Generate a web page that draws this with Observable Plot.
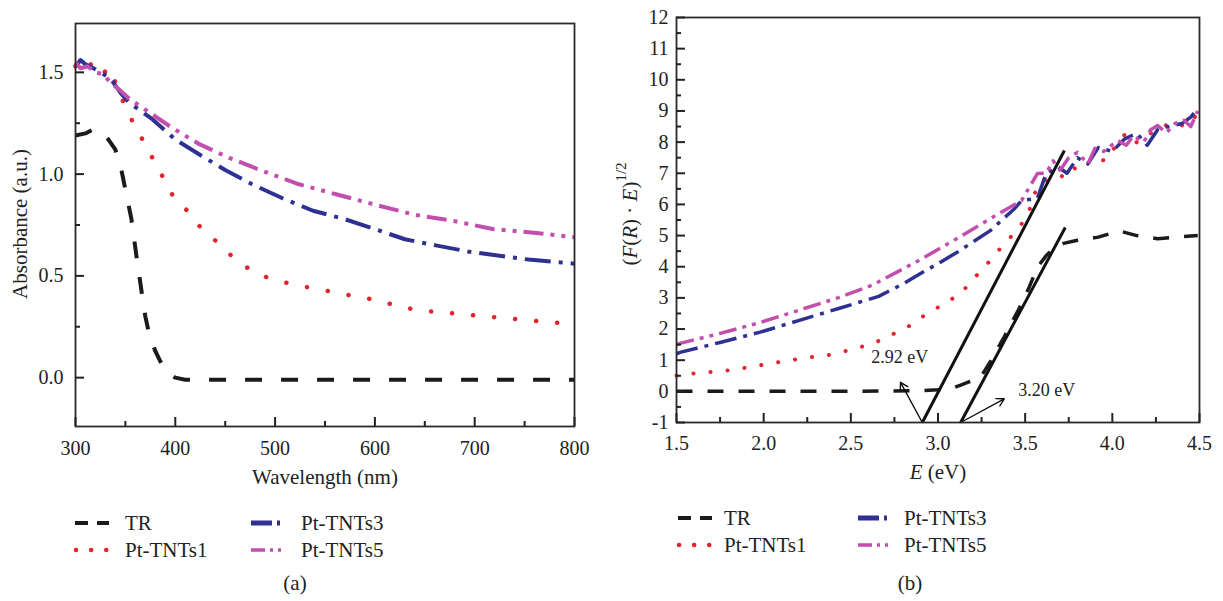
<!DOCTYPE html>
<html><head><meta charset="utf-8">
<script src="https://cdn.jsdelivr.net/npm/d3@7"></script>
<script src="https://cdn.jsdelivr.net/npm/@observablehq/plot@0.6"></script>
<style>
body{margin:0;background:#fff;}
#wrap{position:relative;width:1223px;height:601px;overflow:hidden;font-family:"Liberation Serif","DejaVu Serif",serif;background:#fff;}
#a{position:absolute;left:0;top:0}
#b{position:absolute;left:600px;top:0}
#ov{position:absolute;left:0;top:0;pointer-events:none}
svg text{font-family:"Liberation Serif","DejaVu Serif",serif;}
</style></head><body><div id="wrap"><div id="a"></div><div id="b"></div><svg id="ov" width="1223" height="601"></svg></div>
<script>
// ---------- DATA ----------
const seriesNames = ["TR", "Pt-TNTs1", "Pt-TNTs3", "Pt-TNTs5"];

// Panel (a): wavelength (nm) vs absorbance (a.u.)
const absTR = [[300,1.19],[310,1.20],[318,1.22],[325,1.21],[333,1.17],[340,1.12],[346,1.02],[351,0.90],[356,0.78],[361,0.60],[366,0.43],[370,0.30],[374,0.21],[380,0.13],[385,0.08],[393,0.02],[400,0.0],[410,-0.01],[500,-0.01],[600,-0.01],[700,-0.01],[800,-0.01]];
const absPt1 = [[300,1.53],[305,1.55],[310,1.52],[315,1.54],[320,1.51],[325,1.53],[330,1.50],[335,1.52],[340,1.45],[345,1.39],[350,1.33],[357,1.26],[366,1.18],[377,1.08],[387,0.99],[398,0.89],[412,0.82],[425,0.74],[441,0.67],[456,0.60],[475,0.53],[493,0.49],[516,0.46],[537,0.44],[559,0.42],[580,0.40],[603,0.38],[624,0.35],[645,0.33],[669,0.32],[690,0.31],[713,0.30],[736,0.29],[758,0.28],[779,0.27],[800,0.27]];
const absPt3 = [[300,1.53],[305,1.56],[310,1.54],[318,1.52],[325,1.50],[332,1.48],[338,1.45],[345,1.40],[354,1.35],[377,1.27],[400,1.17],[423,1.10],[450,1.02],[477,0.95],[508,0.88],[538,0.82],[569,0.78],[600,0.73],[630,0.68],[661,0.65],[693,0.62],[723,0.60],[754,0.58],[800,0.56]];
const absPt5 = [[300,1.55],[305,1.52],[312,1.53],[320,1.50],[328,1.49],[335,1.45],[345,1.41],[354,1.37],[375,1.30],[396,1.23],[423,1.15],[454,1.08],[485,1.02],[524,0.95],[562,0.90],[600,0.85],[640,0.80],[679,0.77],[718,0.73],[764,0.71],[800,0.69]];

// Panel (b): photon energy E (eV) vs (F(R)·E)^1/2
const tlTR = [[1.5,0.0],[2.0,0.0],[2.5,0.0],[2.9,0.02],[3.0,0.05],[3.08,0.1],[3.13,0.2],[3.2,0.35],[3.25,0.5],[3.3,0.95],[3.38,1.75],[3.46,2.6],[3.52,3.3],[3.57,3.98],[3.62,4.35],[3.67,4.62],[3.72,4.75],[3.8,4.85],[3.92,4.95],[4.04,5.15],[4.14,5.0],[4.26,4.9],[4.37,4.95],[4.49,5.0]];
const tlPt1 = [[1.5,0.5],[1.54,0.54],[1.79,0.67],[1.91,0.77],[2.14,0.99],[2.26,1.09],[2.39,1.18],[2.51,1.35],[2.63,1.54],[2.75,1.86],[2.83,2.08],[2.93,2.47],[3.03,2.79],[3.13,3.14],[3.21,3.65],[3.29,4.14],[3.38,4.74],[3.46,5.2],[3.52,5.74],[3.57,6.6],[3.63,6.83],[3.71,6.9],[3.76,7.2],[3.82,7.1],[3.89,7.5],[3.96,7.4],[4.03,7.96],[4.08,8.3],[4.14,7.99],[4.2,8.2],[4.26,8.44],[4.35,8.63],[4.42,8.5],[4.49,8.9]];
const tlPt3 = [[1.5,1.2],[1.52,1.25],[1.75,1.57],[1.98,1.9],[2.2,2.27],[2.43,2.66],[2.66,3.05],[2.8,3.45],[2.89,3.75],[3.0,4.1],[3.12,4.5],[3.3,5.16],[3.44,5.87],[3.48,6.13],[3.57,6.19],[3.62,6.99],[3.69,7.2],[3.74,7.0],[3.8,7.5],[3.86,7.3],[3.92,7.83],[4.0,7.7],[4.07,8.1],[4.14,8.28],[4.2,7.9],[4.26,8.4],[4.31,8.48],[4.4,8.6],[4.45,8.8],[4.49,9.1]];
const tlPt5 = [[1.5,1.5],[1.52,1.54],[1.75,1.86],[1.98,2.21],[2.2,2.6],[2.43,3.01],[2.62,3.4],[2.89,4.2],[3.12,4.94],[3.35,5.71],[3.48,6.13],[3.57,6.99],[3.62,7.0],[3.66,7.4],[3.7,7.1],[3.75,7.5],[3.8,7.67],[3.86,7.3],[3.9,7.8],[3.95,7.7],[4.03,8.05],[4.08,7.9],[4.12,8.2],[4.18,8.0],[4.22,8.4],[4.26,8.53],[4.31,8.3],[4.36,8.6],[4.41,8.7],[4.45,8.5],[4.49,9.0]];

// Tauc tangent lines and band-gap annotations
const tangents = [{x1:2.91,y1:-1,x2:3.725,y2:7.73},{x1:3.13,y1:-1,x2:3.73,y2:5.26}];
const gapArrows = [{x1:2.91,y1:-1,x2:2.785,y2:0.29},{x1:3.13,y1:-1,x2:3.38,y2:-0.24}];
const gapLabels = [{x:2.78,y:1.1,text:"2.92 eV",anchor:"middle"},{x:3.46,y:0.02,text:"3.20 eV",anchor:"start"}];

// Tick values
const aXMajor = [300,400,500,600,700,800];
const aXMinor = [350,450,550,650,750];
const aYMajor = [0,0.5,1.0,1.5];
const aYMinor = [0.25,0.75,1.25];
const bXMajor = [1.5,2.0,2.5,3.0,3.5,4.0,4.5];
const bXMinor = [1.75,2.25,2.75,3.25,3.75,4.25];
const bYMajor = d3.range(-1,13,1);
const bYMinor = d3.range(-0.5,12,1);

// ---------- STYLES ----------
const sty = {
  "TR":       {stroke:"#1b1b1b", strokeDasharray:"17,19", strokeLinecap:"butt", strokeWidth:4},
  "Pt-TNTs1": {stroke:"#e5232b", strokeDasharray:"0.1,21", strokeLinecap:"round", strokeWidth:4.5},
  "Pt-TNTs3": {stroke:"#2f3192", strokeDasharray:"26,8,4,8", strokeLinecap:"butt", strokeWidth:4},
  "Pt-TNTs5": {stroke:"#c24fae", strokeDasharray:"20,7,4,7,4,7", strokeLinecap:"butt", strokeWidth:4}
};
const styB = {
  "TR":       {...sty["TR"], strokeWidth:3.5, strokeDasharray:"16,15"},
  "Pt-TNTs1": {...sty["Pt-TNTs1"], strokeWidth:4, strokeDasharray:"0.1,17"},
  "Pt-TNTs3": {...sty["Pt-TNTs3"], strokeWidth:3.5, strokeDasharray:"22,7,4,7"},
  "Pt-TNTs5": {...sty["Pt-TNTs5"], strokeWidth:3.5, strokeDasharray:"18,6,4,6,4,6"}
};
const rows = (arr) => arr.map(([x,y]) => ({x,y}));
const FONT = '"Liberation Serif", "DejaVu Serif", serif';
const tickCol = "#222";

function axes(xMaj, xMin, yMaj, yMin, xFmt, yFmt, xPad, yPad) {
  return [
    Plot.axisX(xMaj, {tickSize:0, tickPadding:xPad, tickFormat:xFmt, label:null, fontSize:20}),
    Plot.axisX(xMaj, {tickSize:-9, fill:"none", stroke:tickCol, strokeWidth:2, label:null}),
    Plot.axisX(xMin, {tickSize:-5, fill:"none", stroke:tickCol, strokeWidth:2, label:null}),
    Plot.axisY(yMaj, {tickSize:0, tickPadding:yPad, tickFormat:yFmt, label:null, fontSize:20}),
    Plot.axisY(yMaj, {tickSize:-9, fill:"none", stroke:tickCol, strokeWidth:2, label:null}),
    Plot.axisY(yMin, {tickSize:-5, fill:"none", stroke:tickCol, strokeWidth:2, label:null})
  ];
}

// ---------- PANEL (a) ----------
const absData = {"TR":absTR, "Pt-TNTs1":absPt1, "Pt-TNTs3":absPt3, "Pt-TNTs5":absPt5};
const plotA = Plot.plot({
  width: 600, height: 470,
  marginLeft: 75, marginRight: 26, marginTop: 23, marginBottom: 44,
  x: {domain: [300, 800]},
  y: {domain: [-0.24, 1.74]},
  style: {fontFamily: FONT, fontSize: "20px", color: "#222", background: "transparent"},
  marks: [
    ...seriesNames.map(n => Plot.line(rows(absData[n]), {x:"x", y:"y", ...sty[n]})),
    Plot.frame({stroke:"#2a2a2a", strokeWidth:1.8}),
    ...axes(aXMajor, aXMinor, aYMajor, aYMinor, d => String(d), d => d.toFixed(1), 14, 12)
  ]
});
document.getElementById("a").appendChild(plotA);

// ---------- PANEL (b) ----------
const tlData = {"TR":tlTR, "Pt-TNTs1":tlPt1, "Pt-TNTs3":tlPt3, "Pt-TNTs5":tlPt5};
const plotB = Plot.plot({
  width: 623, height: 470,
  marginLeft: 76, marginRight: 24, marginTop: 17, marginBottom: 48,
  x: {domain: [1.5, 4.5]},
  y: {domain: [-1, 12]},
  style: {fontFamily: FONT, fontSize: "20px", color: "#222", background: "transparent"},
  marks: [
    ...seriesNames.map(n => Plot.line(rows(tlData[n]), {x:"x", y:"y", ...styB[n]})),
    Plot.link(tangents, {x1:"x1", y1:"y1", x2:"x2", y2:"y2", stroke:"#111", strokeWidth:3}),
    Plot.arrow(gapArrows, {x1:"x1", y1:"y1", x2:"x2", y2:"y2", stroke:"#111", strokeWidth:1.4, headLength:9, bend:0, insetStart:0, insetEnd:0}),
    Plot.text(gapLabels.filter(d => d.anchor === "middle"), {x:"x", y:"y", text:"text", textAnchor:"middle", fontSize:18, fill:"#222"}),
    Plot.text(gapLabels.filter(d => d.anchor === "start"), {x:"x", y:"y", text:"text", textAnchor:"start", fontSize:18, fill:"#222"}),
    Plot.frame({stroke:"#2a2a2a", strokeWidth:1.8}),
    ...axes(bXMajor, bXMinor, bYMajor, bYMinor, d => d.toFixed(1), d => String(d), 13, 8)
  ]
});
document.getElementById("b").appendChild(plotB);

// ---------- LABELS, LEGENDS, CAPTIONS ----------
const ov = d3.select("#ov").attr("fill", "#222");
ov.append("text").attr("transform", "translate(20,224) rotate(-90)")
  .attr("text-anchor", "middle").attr("dominant-baseline", "central").attr("font-size", 21).text("Absorbance (a.u.)");
ov.append("text").attr("x", 325).attr("y", 477).attr("text-anchor", "middle")
  .attr("dominant-baseline", "central").attr("font-size", 21).text("Wavelength (nm)");
const yl = ov.append("text").attr("transform", "translate(630,214) rotate(-90)")
  .attr("text-anchor", "middle").attr("dominant-baseline", "central").attr("font-size", 21);
yl.append("tspan").text("(");
yl.append("tspan").attr("font-style", "italic").text("F");
yl.append("tspan").text("(");
yl.append("tspan").attr("font-style", "italic").text("R");
yl.append("tspan").text(") \u00B7 ");
yl.append("tspan").attr("font-style", "italic").text("E");
yl.append("tspan").text(")");
yl.append("tspan").attr("font-size", 15).attr("dy", -9).text("1/2");
const xl = ov.append("text").attr("x", 938).attr("y", 472).attr("text-anchor", "middle")
  .attr("dominant-baseline", "central").attr("font-size", 21);
xl.append("tspan").attr("font-style", "italic").text("E");
xl.append("tspan").text(" (eV)");

const legendSw = {
  "TR":       {stroke:"#1b1b1b", dash:"13,9", cap:"butt", w:4},
  "Pt-TNTs1": {stroke:"#e5232b", dash:"0.1,15", cap:"round", w:4.5},
  "Pt-TNTs3": {stroke:"#2f3192", dash:"21,5,3,5", cap:"butt", w:5},
  "Pt-TNTs5": {stroke:"#c24fae", dash:"14,5,3,5,3,5", cap:"butt", w:3.5}
};
function legend(x0, x1col, y0, dy, tOff) {
  const pos = [[x0,y0],[x0,y0+dy],[x1col,y0],[x1col,y0+dy]];
  const order = ["TR","Pt-TNTs1","Pt-TNTs3","Pt-TNTs5"];
  order.forEach((n,i) => {
    const [x,y] = pos[i]; const s = legendSw[n];
    ov.append("line").attr("x1", n==="Pt-TNTs1" ? x+1 : x).attr("x2", x+34).attr("y1", y).attr("y2", y)
      .attr("stroke", s.stroke).attr("stroke-width", s.w).attr("stroke-dasharray", s.dash).attr("stroke-linecap", s.cap);
    ov.append("text").attr("x", x+tOff).attr("y", y).attr("dominant-baseline", "central")
      .attr("font-size", 21).text(n);
  });
}
legend(75, 251, 523, 27, 50);
legend(678, 858, 518, 27, 46);
ov.append("text").attr("x", 295).attr("y", 583).attr("text-anchor", "middle").attr("dominant-baseline", "central").attr("font-size", 21).text("(a)");
ov.append("text").attr("x", 910).attr("y", 583).attr("text-anchor", "middle").attr("dominant-baseline", "central").attr("font-size", 21).text("(b)");
</script>
</body></html>
